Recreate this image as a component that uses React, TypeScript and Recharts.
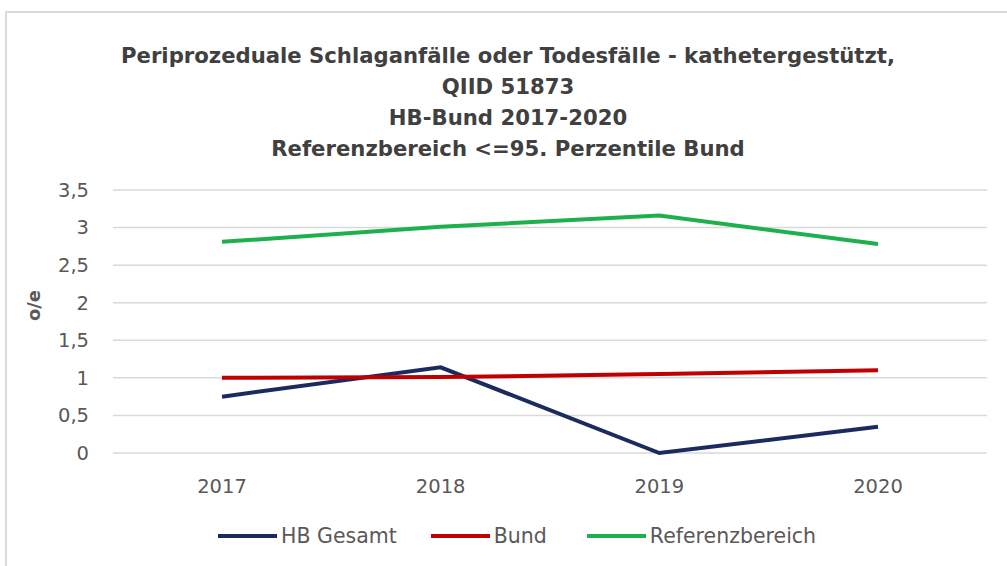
import React from 'react';
import { LineChart, Line, XAxis, YAxis, CartesianGrid, Legend } from 'recharts';

const years = ['2017', '2018', '2019', '2020'];
const hbGesamt = [0.75, 1.14, 0, 0.35];
const bund = [1.0, 1.01, 1.05, 1.1];
const referenzbereich = [2.81, 3.01, 3.16, 2.78];
const yTicks = [0, 0.5, 1, 1.5, 2, 2.5, 3, 3.5];
const titleLines = [
  'Periprozeduale Schlaganfälle oder Todesfälle - kathetergestützt,',
  'QIID 51873',
  'HB-Bund 2017-2020',
  'Referenzbereich <=95. Perzentile Bund',
];

const data = years.map((y, i) => ({
  year: y,
  hb: hbGesamt[i],
  bund: bund[i],
  ref: referenzbereich[i],
}));

const FONT = '"DejaVu Sans", sans-serif';
const GRAY = '#595959';

const series = [
  { key: 'hb', name: 'HB Gesamt', color: '#1c2b5e' },
  { key: 'bund', name: 'Bund', color: '#c00000' },
  { key: 'ref', name: 'Referenzbereich', color: '#1fb04e' },
];

const LegendContent = () => (
  <div style={{ display: 'flex', alignItems: 'center', height: 30, paddingLeft: 218, fontFamily: FONT }}>
    {series.map((s, i) => (
      <div key={s.key} style={{ display: 'flex', alignItems: 'center', marginRight: i === 0 ? 34 : 40 }}>
        <div style={{ width: 59, height: 4.5, background: s.color, marginRight: 4 }} />
        <span style={{ fontSize: 20.5, color: GRAY, whiteSpace: 'nowrap' }}>{s.name}</span>
      </div>
    ))}
  </div>
);

const YLabel = (props: any) => {
  const vb = props.viewBox || {};
  const x = vb.x - 20;
  const y = vb.y + vb.height / 2 - 16;
  return (
    <text
      x={x}
      y={y}
      transform={`rotate(-90, ${x}, ${y})`}
      textAnchor="middle"
      dominantBaseline="central"
      fontFamily={FONT}
      fontWeight="bold"
      fontSize={18}
      fill={GRAY}
    >
      o/e
    </text>
  );
};

export default function App() {
  return (
    <div
      style={{
        position: 'absolute',
        left: 0,
        top: 0,
        width: 1007,
        height: 566,
        background: '#ffffff',
        overflow: 'hidden',
        fontFamily: FONT,
      }}
    >
      <div
        style={{
          position: 'absolute',
          left: 5,
          top: 11,
          right: -10,
          bottom: -10,
          borderLeft: '2px solid #d9d9d9',
          borderTop: '2px solid #d9d9d9',
        }}
      />
      <div
        style={{
          position: 'absolute',
          left: 6,
          width: 1004,
          top: 40,
          textAlign: 'center',
          fontWeight: 'bold',
          fontSize: 21.2,
          lineHeight: '31px',
          color: '#404040',
          whiteSpace: 'nowrap',
        }}
      >
        {titleLines.map((t) => (
          <div key={t}>{t}</div>
        ))}
      </div>
      <div style={{ position: 'absolute', left: 0, top: 0 }}>
        <LineChart width={1007} height={566} data={data} margin={{ top: 190, right: 20, left: 53, bottom: 43 }}>
          <CartesianGrid vertical={false} stroke="#d9d9d9" strokeWidth={1.5} />
          <XAxis
            dataKey="year"
            axisLine={false}
            tickLine={false}
            tickSize={0}
            tickMargin={26}
            height={40}
            padding={{ left: 109, right: 109 }}
            tick={{ fontFamily: FONT, fontSize: 19.5, fill: GRAY }}
            interval={0}
          />
          <YAxis
            domain={[0, 3.5]}
            ticks={yTicks}
            interval={0}
            width={60}
            axisLine={false}
            tickLine={false}
            tickSize={0}
            tickMargin={24}
            tickFormatter={(v: number) => String(v).replace('.', ',')}
            tick={{ fontFamily: FONT, fontSize: 19.5, fill: GRAY }}
            label={<YLabel />}
          />
          <Legend
            verticalAlign="bottom"
            content={<LegendContent />}
            wrapperStyle={{ top: 521, left: 0, width: 1007 }}
          />
          {series.map((s) => (
            <Line
              key={s.key}
              type="linear"
              dataKey={s.key}
              name={s.name}
              stroke={s.color}
              strokeWidth={4}
              dot={false}
              activeDot={false}
              isAnimationActive={false}
            />
          ))}
        </LineChart>
      </div>
    </div>
  );
}
